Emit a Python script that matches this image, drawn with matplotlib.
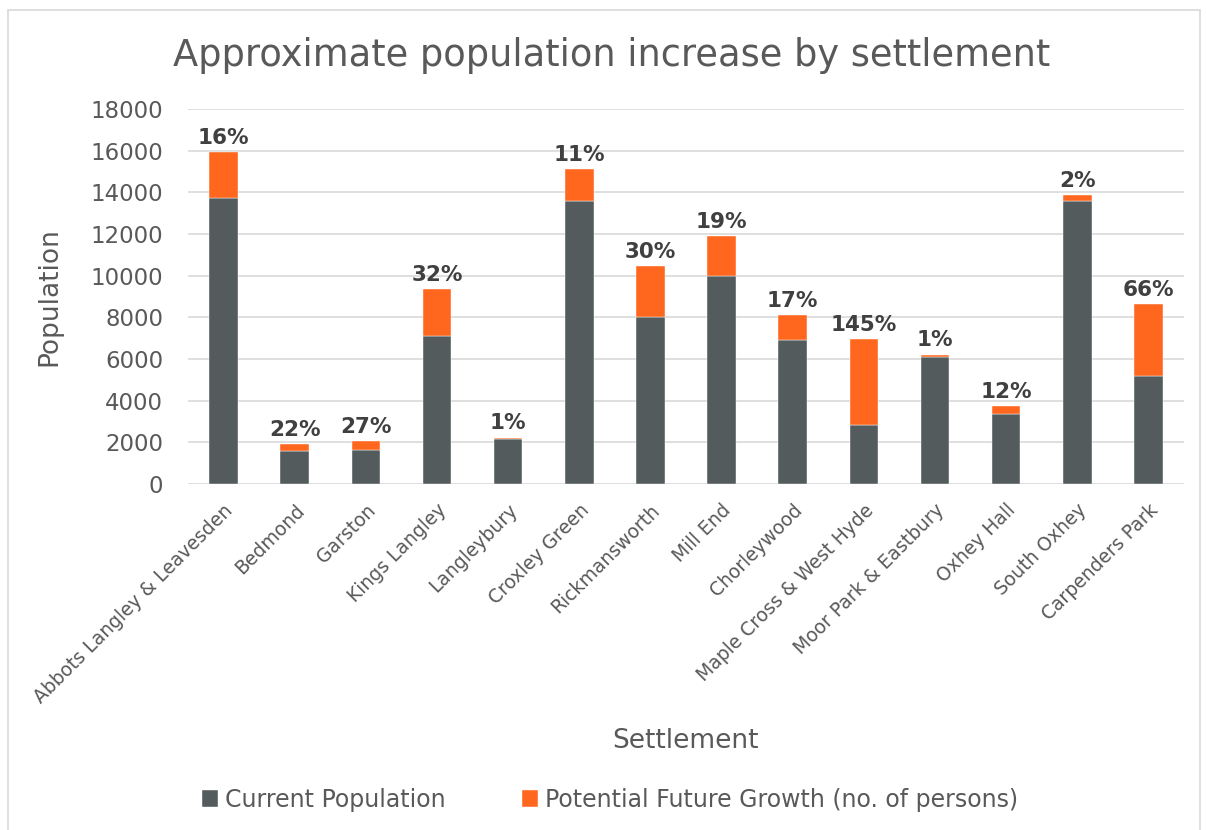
import matplotlib

matplotlib.use("Agg")
import matplotlib.pyplot as plt
from matplotlib.patches import Rectangle

# data
settlements = [
    "Abbots Langley & Leavesden", "Bedmond", "Garston", "Kings Langley",
    "Langleybury", "Croxley Green", "Rickmansworth", "Mill End",
    "Chorleywood", "Maple Cross & West Hyde", "Moor Park & Eastbury",
    "Oxhey Hall", "South Oxhey", "Carpenders Park",
]
current = [13750, 1570, 1620, 7100, 2170, 13600, 8000, 10000,
           6900, 2840, 6110, 3340, 13600, 5200]
growth = [2200, 350, 445, 2240, 60, 1520, 2440, 1890,
          1190, 4110, 100, 420, 260, 3450]
pct_labels = ["16%", "22%", "27%", "32%", "1%", "11%", "30%", "19%",
              "17%", "145%", "1%", "12%", "2%", "66%"]

GREY_BAR = "#535B5D"
ORANGE = "#FF671F"
TEXT = "#595959"
GRID = "#D9D9D9"

W, H = 1206, 830
fig = plt.figure(figsize=(W / 100, H / 100), dpi=100)
fig.patches.append(Rectangle((8 / W, -0.01), (1200 - 8) / W, 1.0 - 10 / H + 0.01,
                             transform=fig.transFigure, fill=False,
                             edgecolor=GRID, linewidth=1.2))

left, right, top, bottom = 188, 1184, 109, 484
ax = fig.add_axes([left / W, 1 - bottom / H, (right - left) / W, (bottom - top) / H])

x = list(range(len(settlements)))
ax.bar(x, current, width=0.4, color=GREY_BAR, edgecolor="white", linewidth=0.3,
       label="Current Population", zorder=3)
ax.bar(x, growth, width=0.4, bottom=current, color=ORANGE, edgecolor="white",
       linewidth=0.3, label="Potential Future Growth (no. of persons)", zorder=3)

for xi, c, g, lab in zip(x, current, growth, pct_labels):
    ax.annotate(lab, xy=(xi, c + g), xytext=(0, 3), textcoords="offset points",
                ha="center", va="bottom", fontsize=15.5, fontweight="bold",
                color="#404040")

ax.set_xlim(-0.5, len(settlements) - 0.5)
ax.set_ylim(0, 18000)
ax.set_yticks(range(0, 18001, 2000))
ax.tick_params(axis="y", length=0, pad=18, labelsize=16.5, labelcolor=TEXT)
ax.tick_params(axis="x", length=0, pad=12)
ax.set_xticks(x)
ax.set_xticklabels(settlements, rotation=45, ha="right", rotation_mode="anchor",
                   fontsize=13.5, color=TEXT)
ax.grid(axis="y", color=GRID, linewidth=1.2, zorder=0)
ax.set_axisbelow(True)
for s in ax.spines.values():
    s.set_visible(False)

ax.set_ylabel("Population", fontsize=19, color=TEXT)
ax.yaxis.set_label_coords((62 - left) / (right - left), 0.5)
ax.set_xlabel("Settlement", fontsize=19, color=TEXT)
ax.xaxis.set_label_coords((686 - left) / (right - left), (bottom - 728) / (bottom - top))

fig.text(612 / W, 1 - 55 / H, "Approximate population increase by settlement",
         ha="center", va="center", fontsize=26.5, color=TEXT)

fig.legend(loc="center", bbox_to_anchor=(610 / W, 1 - 800 / H), ncol=2,
           frameon=False, fontsize=17, labelcolor=TEXT, handlelength=0.7,
           handleheight=0.7, handletextpad=0.3, columnspacing=3.2)

fig.savefig("out.png", dpi=100)
